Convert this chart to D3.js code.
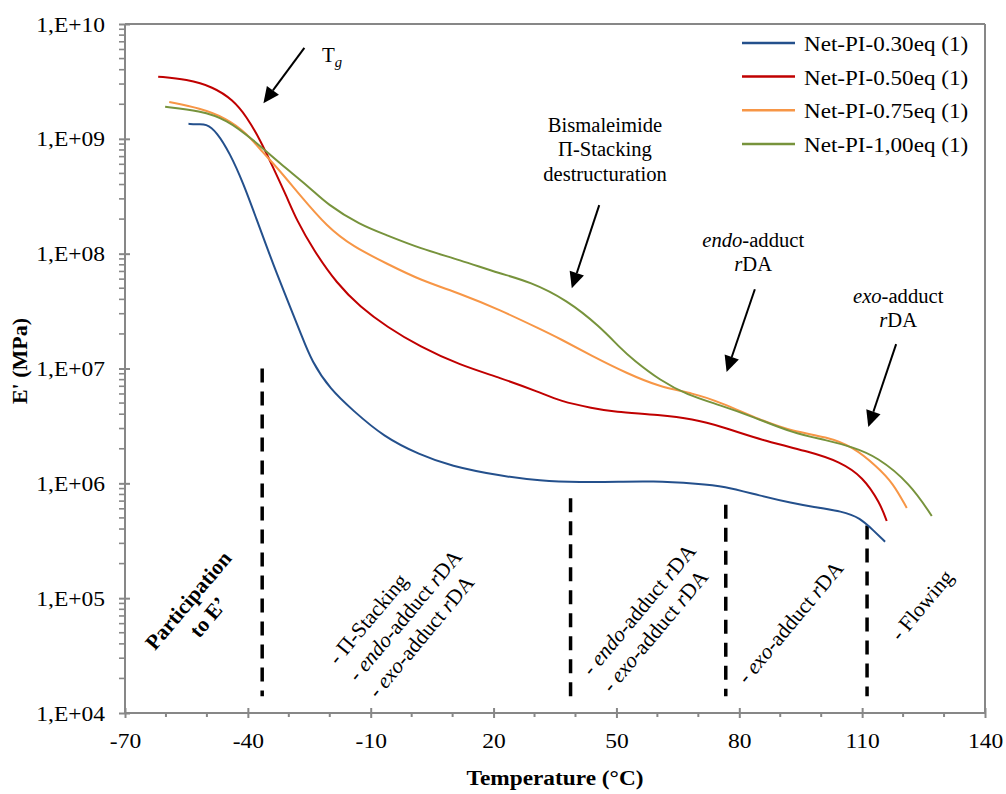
<!DOCTYPE html>
<html><head><meta charset="utf-8">
<script src="https://cdn.jsdelivr.net/npm/d3@7"></script>
<style>
body{margin:0;background:#fff}
svg{display:block}
text{font-family:"Liberation Serif","Times New Roman",serif;fill:#000}
</style>
</head><body>
<svg id="c" width="1006" height="794"></svg>
<script>
// ---------- DATA ----------
const seriesNames = ["Net-PI-0.30eq (1)", "Net-PI-0.50eq (1)", "Net-PI-0.75eq (1)", "Net-PI-1,00eq (1)"];
const seriesColors = ["#24508c", "#c00000", "#f79646", "#77933c"];

const temp030 = [-54.5,-52.5,-50.2,-47.6,-44.4,-41.1,-37.8,-35.4,-33.0,-29.7,-26.9,-24.4,-19.9,-14.3,-6.9,2.0,9.4,21.6,31.3,41.1,50.9,58.2,70.4,76.0,85.1,93.1,97.3,105.3,109.5,112.7,115.6];
const mod030  = [1.35e9,1.33e9,1.36e9,1.15e9,7.5e8,4.1e8,1.96e8,1.15e8,6.8e7,3.45e7,1.95e7,1.15e7,6.6e6,4.3e6,2.55e6,1.77e6,1.42e6,1.16e6,1.05e6,1.02e6,1.03e6,1.05e6,9.9e5,9.5e5,7.8e5,6.7e5,6.3e5,5.7e5,5.0e5,3.9e5,3.1e5];

const temp050 = [-61.9,-54.9,-48.5,-43.6,-40.3,-37.0,-33.9,-30.5,-28.1,-24.0,-18.3,-12.6,-6.1,2.0,11.8,21.6,31.3,36.2,44.3,49.2,60.6,68.7,75.3,86.7,97.3,104.6,110.2,114.4,116.0];
const mod050  = [3.48e9,3.30e9,2.84e9,2.18e9,1.56e9,9.8e8,5.7e8,3.13e8,1.96e8,1.08e8,5.5e7,3.45e7,2.31e7,1.55e7,1.07e7,8.3e6,6.2e6,5.2e6,4.5e6,4.2e6,3.94e6,3.63e6,3.16e6,2.30e6,1.88e6,1.54e6,1.14e6,6.7e5,4.7e5];

const temp075 = [-59.2,-51.7,-45.2,-40.3,-36.2,-33.0,-27.3,-20.7,-14.3,-6.1,2.0,11.8,21.6,31.3,36.2,44.3,52.5,60.6,68.7,75.3,85.1,93.1,101.3,107.8,113.6,117.5,120.9];
const mod075  = [2.09e9,1.85e9,1.51e9,1.12e9,7.5e8,5.7e8,3.24e8,1.72e8,1.15e8,8.2e7,5.9e7,4.5e7,3.23e7,2.21e7,1.82e7,1.27e7,9.1e6,6.9e6,6.1e6,5.1e6,3.56e6,2.82e6,2.55e6,2.08e6,1.40e6,1.01e6,6.1e5];

const temp100 = [-60.2,-51.7,-45.2,-38.7,-32.2,-24.8,-20.7,-12.6,-6.1,2.0,11.8,21.6,28.9,37.9,46.0,50.9,54.1,60.6,67.2,75.3,83.4,93.1,101.3,107.8,113.6,121.7,127.0];
const mod100  = [1.90e9,1.76e9,1.48e9,9.8e8,6.1e8,3.75e8,2.7e8,1.78e8,1.45e8,1.11e8,8.8e7,6.7e7,5.7e7,3.95e7,2.31e7,1.51e7,1.19e7,7.9e6,5.9e6,4.8e6,3.8e6,2.73e6,2.38e6,2.06e6,1.71e6,1.0e6,5.2e5];

const xTickValues = [-70,-40,-10,20,50,80,110,140];
const yTickValues = [1e4,1e5,1e6,1e7,1e8,1e9,1e10];
const yTickLabels = ["1,E+04","1,E+05","1,E+06","1,E+07","1,E+08","1,E+09","1,E+10"];

// vertical dashed separators (temperature, top modulus, bottom modulus)
const dashTemp = [-36.5, 38.8, 76.7, 111.2];
const dashTop  = [1.0e7, 7.4e5, 6.5e5, 4.3e5];
const dashBottom = 1.4e4;

// arrows: [T start, E start, T tip, E tip]
const arrows = [
  [-26.2, 6.2e9, -36.2, 2.04e9],
  [45.8, 2.65e8, 39.1, 5.0e7],
  [83.8, 4.9e7, 76.9, 9.3e6],
  [118.3, 1.63e7, 111.5, 3.1e6]
];

// ---------- SETUP ----------
const svg = d3.select("#c");
const L = 125, R = 985, T = 24, B = 713;
const x = d3.scaleLinear().domain([-70, 140]).range([L, R]);
const y = d3.scaleLog().domain([1e4, 1e10]).range([B, T]);
const SX = 1.12;
const FS = 21;
const AX = "#878787";

// plot frame
const frame = svg.append("g").attr("stroke", AX).attr("stroke-width", 2).attr("fill", "none");
frame.append("line").attr("x1", L).attr("x2", R).attr("y1", T).attr("y2", T);
frame.append("line").attr("x1", R).attr("x2", R).attr("y1", T).attr("y2", B);

// X axis
const xAxis = d3.axisBottom(x).tickValues(xTickValues).tickSize(0).tickPadding(0).tickFormat(d => String(d));
const gx = svg.append("g").attr("transform", `translate(0,${B})`).call(xAxis);
gx.select(".domain").remove();
gx.selectAll("text").attr("font-size", FS).attr("y", 0).attr("dy", null)
  .attr("transform", `translate(0,35) scale(${SX},1)`).style("font-family", '"Liberation Serif",serif').attr("fill", "#000");
gx.selectAll(".tick").append("line").attr("y1", -5).attr("y2", 5).attr("stroke", AX).attr("stroke-width", 2);
const xMinor = d3.range(-60, 140, 10).filter(v => (v + 70) % 30 !== 0);
svg.append("g").selectAll("line").data(xMinor).join("line")
  .attr("x1", d => x(d)).attr("x2", d => x(d)).attr("y1", B).attr("y2", B + 4)
  .attr("stroke", AX).attr("stroke-width", 2);
svg.append("line").attr("x1", L).attr("x2", R).attr("y1", B).attr("y2", B).attr("stroke", AX).attr("stroke-width", 2);

// Y axis
const yAxis = d3.axisLeft(y).tickValues(yTickValues).tickSize(0).tickPadding(0)
  .tickFormat((d, i) => yTickLabels[i]);
const gy = svg.append("g").attr("transform", `translate(${L},0)`).call(yAxis);
gy.select(".domain").remove();
gy.selectAll("text").attr("font-size", FS).attr("x", 0).attr("dy", null).attr("y", 0)
  .attr("text-anchor", "end")
  .attr("transform", `translate(-20,7) scale(${SX},1)`).style("font-family", '"Liberation Serif",serif').attr("fill", "#000");
gy.selectAll(".tick").append("line").attr("x1", -6).attr("x2", 5).attr("stroke", AX).attr("stroke-width", 2);
const yMinor = [];
for (let d = 4; d < 10; d++) for (let k = 2; k <= 9; k++) yMinor.push(k * Math.pow(10, d));
svg.append("g").selectAll("line").data(yMinor).join("line")
  .attr("x1", L - 6).attr("x2", L).attr("y1", d => y(d)).attr("y2", d => y(d))
  .attr("stroke", AX).attr("stroke-width", 1.6);
svg.append("line").attr("x1", L).attr("x2", L).attr("y1", T).attr("y2", B).attr("stroke", AX).attr("stroke-width", 2);

// axis titles
svg.append("text").attr("transform", `translate(555,785) scale(1.06,1)`).attr("text-anchor", "middle")
  .attr("font-size", 22).attr("font-weight", "bold").text("Temperature (°C)");
svg.append("text").attr("transform", `translate(27,361) rotate(-90)`).attr("text-anchor", "middle")
  .attr("font-size", 22).attr("font-weight", "bold").text("E' (MPa)");

// dashed separators
svg.append("g").selectAll("line").data(dashTemp).join("line")
  .attr("x1", d => x(d)).attr("x2", d => x(d))
  .attr("y1", (d, i) => y(dashTop[i])).attr("y2", y(dashBottom))
  .attr("stroke", "#000").attr("stroke-width", 3.5).attr("stroke-dasharray", "14,9");

// curves
const allSeries = [[temp030, mod030], [temp050, mod050], [temp075, mod075], [temp100, mod100]];
const line = d3.line().x(d => x(d[0])).y(d => y(d[1])).curve(d3.curveBasis);
allSeries.forEach((s, i) => {
  const pts = s[0].map((t, j) => [t, s[1][j]]);
  svg.append("path").datum(pts).attr("d", line).attr("fill", "none")
    .attr("stroke", seriesColors[i]).attr("stroke-width", 2);
});

// legend
const lg = svg.append("g");
const legY = [43, 76.5, 110.3, 144];
seriesNames.forEach((n, i) => {
  lg.append("line").attr("x1", 742).attr("x2", 795).attr("y1", legY[i]).attr("y2", legY[i])
    .attr("stroke", seriesColors[i]).attr("stroke-width", 2.5);
  lg.append("text").attr("transform", `translate(804,${legY[i] + 8}) scale(1.1,1)`)
    .attr("font-size", FS).text(n);
});

// arrows
arrows.forEach(a => {
  const x1 = x(a[0]), y1 = y(a[1]), x2 = x(a[2]), y2 = y(a[3]);
  const dx = x2 - x1, dy = y2 - y1, len = Math.hypot(dx, dy);
  const ux = dx / len, uy = dy / len, hl = 16, hw = 7.5;
  const bx = x2 - ux * hl, by = y2 - uy * hl;
  svg.append("line").attr("x1", x1).attr("y1", y1).attr("x2", bx).attr("y2", by)
    .attr("stroke", "#000").attr("stroke-width", 2);
  svg.append("path").attr("d", `M${x2},${y2}L${bx - uy * hw},${by + ux * hw}L${bx + uy * hw},${by - ux * hw}Z`)
    .attr("fill", "#000");
});

// horizontal annotations
function ann(t, e, lines, anchor, sx) {
  const g = svg.append("text").attr("transform", `translate(${x(t)},${y(e)}) scale(${sx},1)`)
    .attr("text-anchor", anchor).attr("font-size", 20);
  lines.forEach((ln, i) => {
    ln.forEach((seg, j) => {
      const ts = g.append("tspan").text(seg[0]);
      if (seg[1]) ts.attr("font-style", "italic");
      if (j === 0) ts.attr("x", 0).attr("dy", i === 0 ? 0 : 24.5);
    });
  });
  return g;
}
const tg = svg.append("text").attr("transform", `translate(${x(-21.9)},${y(4.7e9)}) scale(1.05,1)`).attr("font-size", 20);
tg.append("tspan").text("T");
tg.append("tspan").attr("font-style", "italic").attr("font-size", 14).attr("dy", 5).text("g");

ann(47.2, 1.15e9, [[["Bismaleimide"]], [["Π-Stacking"]], [["destructuration"]]], "middle", 1.03);
ann(83.4, 1.15e8, [[["endo", 1], ["-adduct"]], [["r", 1], ["DA"]]], "middle", 1.03);
ann(118.8, 3.72e7, [[["exo", 1], ["-adduct"]], [["r", 1], ["DA"]]], "middle", 1.03);

// rotated annotations
function rot(t, e, lines, anchor, bold) {
  const g = svg.append("text").attr("transform", `translate(${x(t)},${y(e)}) rotate(-50)`)
    .attr("text-anchor", anchor).attr("font-size", 21.5);
  if (bold) g.attr("font-weight", "bold");
  lines.forEach((ln, i) => {
    ln.forEach((seg, j) => {
      const ts = g.append("tspan").text(seg[0]);
      if (seg[1]) ts.attr("font-style", "italic");
      if (j === 0) ts.attr("x", 0).attr("dy", i === 0 ? 0 : 26);
    });
  });
}
rot(-53.2, 8.7e4, [[["Participation"]], [["to E’"]]], "middle", true);
rot(-18.0, 2.57e4, [[["- Π-Stacking"]], [["- "], ["endo", 1], ["-adduct "], ["r", 1], ["DA"]], [["- "], ["exo", 1], ["-adduct  "], ["r", 1], ["DA"]]], "start", false);
rot(44.0, 2.06e4, [[["- "], ["endo", 1], ["-adduct "], ["r", 1], ["DA"]], [["- "], ["exo", 1], ["-adduct  "], ["r", 1], ["DA"]]], "start", false);
rot(81.9, 1.75e4, [[["- "], ["exo", 1], ["-adduct  "], ["r", 1], ["DA"]]], "start", false);
rot(119.3, 4.15e4, [[["- Flowing"]]], "start", false);
</script>
</body></html>
